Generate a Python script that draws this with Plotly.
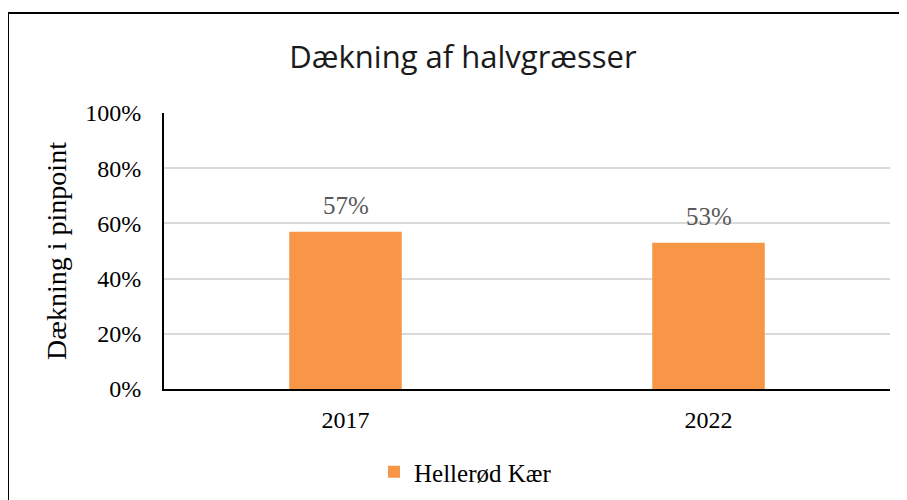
import plotly.graph_objects as go

categories = ["2017", "2022"]
values = [0.57, 0.53]
series_name = "Hellerød Kær"
title_text = "Dækning af halvgræsser"
y_title = "Dækning i pinpoint"
tick_vals = [0, 0.2, 0.4, 0.6, 0.8, 1.0]
tick_text = ["0%", "20%", "40%", "60%", "80%", "100%"]

# The page body has an 8px margin, so figure coords = screen coords - 8
OFF = 8
W, H = 907 - OFF, 500 - OFF
L, T = 164 - OFF, 113 - OFF
R = W - (890 - OFF)
B = H - (389 - OFF)
pw, ph = W - L - R, H - T - B


def px_x(x):
    return (x - OFF - L) / pw


def px_y(y):
    return (H - B - (y - OFF)) / ph


serif = "Liberation Serif"

fig = go.Figure()
fig.add_trace(go.Bar(
    x=categories, y=values, name=series_name,
    marker=dict(color="#F79646", line=dict(width=0)),
    showlegend=True,
))

for i, v in enumerate(values):
    fig.add_annotation(x=i, y=v, xref="x", yref="y", text=f"{round(v*100)}%", showarrow=False,
                       yanchor="bottom", yshift=11,
                       font=dict(family=serif, size=25, color="#595959"))

fig.update_layout(
    width=W, height=H,
    margin=dict(l=L, r=R, t=T, b=B, autoexpand=False),
    paper_bgcolor="white", plot_bgcolor="white",
    bargap=0.69,
    title=dict(text=title_text, x=(463 - OFF) / W, xanchor="center",
               y=1 - (57 - OFF) / H, yanchor="middle",
               font=dict(family="Open Sans", size=31, color="#1a1a1a")),
    xaxis=dict(type="category", range=[-0.5, len(categories) - 0.5], automargin=False,
               showline=True, linecolor="black", linewidth=2, ticks="",
               ticklabelstandoff=8,
               tickfont=dict(family=serif, size=24, color="black"), showgrid=False),
    yaxis=dict(range=[0, 1], tickvals=tick_vals, ticktext=tick_text, automargin=False,
               showgrid=True, gridcolor="#D9D9D9", gridwidth=1.5,
               showline=True, linecolor="black", linewidth=2, ticks="",
               zeroline=False, ticklabelstandoff=16,
               tickfont=dict(family=serif, size=24, color="black"),
               title=dict(text=y_title, font=dict(family=serif, size=28, color="black"), standoff=10)),
    legend=dict(orientation="h", x=px_x(374), xanchor="left", y=px_y(472), yanchor="middle",
                font=dict(family=serif, size=25, color="black"), itemwidth=30),
    showlegend=True,
)

fig.add_shape(type="rect", xref="paper", yref="paper",
              x0=px_x(8), x1=px_x(930), y0=px_y(530), y1=px_y(13),
              line=dict(color="black", width=2), fillcolor="rgba(0,0,0,0)", layer="above")

fig.write_html("out.html")
